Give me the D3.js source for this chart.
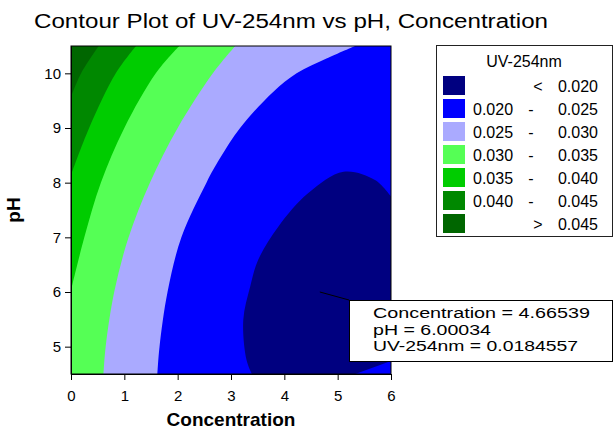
<!DOCTYPE html>
<html lang="en">
<head>
  <meta charset="UTF-8">
  <title>Contour Plot of UV-254nm vs pH, Concentration</title>
  <style>
    body { margin: 0; background: #fff; }
    svg { display: block; }
    text { font-family: 'Liberation Sans', Arial, sans-serif; fill: #000; }
    .axis path, .axis line { stroke: #000; }
    .axis text { font-size: 15px; }
  </style>
</head>
<body>
  <svg width="615" height="429"></svg>
  <script src="https://cdn.jsdelivr.net/npm/d3@7"></script>
  <script>
    // ticks
    var xTicks = [0, 1, 2, 3, 4, 5, 6]
    var yTicks = [5, 6, 7, 8, 9, 10]

    // contour boundaries, [Concentration, pH]
    var line020 = [[3.39, 4.5], [3.29, 4.76], [3.23, 5.49], [3.36, 6.1], [3.51, 6.59], [3.89, 7.2], [4.45, 7.81], [5.11, 8.2], [5.7, 8.05], [6.0, 7.75]]
    var line020low = [[6.0, 4.74], [5.33, 4.5]]
    var line025 = [[5.33, 10.5], [4.79, 10.27], [4.23, 10.0], [3.79, 9.66], [3.17, 9.0], [2.79, 8.44], [2.54, 8.0], [2.07, 7.0], [1.81, 6.0], [1.66, 5.0], [1.62, 4.5]]
    var line030 = [[3.08, 10.5], [2.66, 10.0], [2.0, 9.0], [1.48, 8.0], [1.08, 7.0], [0.81, 6.0], [0.65, 5.0], [0.61, 4.5]]
    var line035 = [[2.03, 10.5], [1.59, 10.0], [1.0, 9.0], [0.56, 8.0], [0.25, 7.0], [0.0, 6.03]]
    var line040 = [[1.22, 10.5], [0.84, 10.0], [0.34, 9.0], [0.0, 8.14]]
    var line045 = [[0.52, 10.5], [0.19, 10.0], [0.0, 9.57]]

    // legend
    var legendLow = ['', '0.020', '0.025', '0.030', '0.035', '0.040', '']
    var legendHigh = ['0.020', '0.025', '0.030', '0.035', '0.040', '0.045', '0.045']
    var legendSign = ['<', '-', '-', '-', '-', '-', '>']
    var bandColors = ['#000080', '#0000ff', '#aaaaff', '#55ff55', '#00cc00', '#008800', '#006600']

    // crosshair point: Concentration, pH, UV-254nm
    var probe = [4.66539, 6.00034, 0.0184557]

    var svg = d3.select('svg')
    var plotL = 71, plotR = 391, plotT = 46, plotB = 374

    var x = d3.scaleLinear().domain([0, 6]).range([plotL, plotR])
    var y = d3.scaleLinear().domain([4.5, 10.5]).range([plotB, plotT])

    svg.append('text')
      .attr('x', 34)
      .attr('y', 28)
      .attr('font-size', '20px')
      .attr('textLength', 514)
      .attr('lengthAdjust', 'spacingAndGlyphs')
      .text('Contour Plot of UV-254nm vs pH, Concentration')

    svg.append('clipPath').attr('id', 'plot-clip')
      .append('rect')
      .attr('x', plotL).attr('y', plotT)
      .attr('width', plotR - plotL).attr('height', plotB - plotT)

    var line = d3.line()
      .x(function(d) { return x(d[0]) })
      .y(function(d) { return y(d[1]) })
      .curve(d3.curveCatmullRom.alpha(0.5))

    function pt(c, p) {
      return 'L' + x(c) + ',' + y(p)
    }

    var g = svg.append('g').attr('clip-path', 'url(#plot-clip)')

    // base band 0.020 - 0.025
    g.append('rect')
      .attr('x', plotL).attr('y', plotT)
      .attr('width', plotR - plotL).attr('height', plotB - plotT)
      .attr('fill', bandColors[1])

    // bands painted from the bottom-right towards the top-left corner
    g.append('path')
      .attr('fill', bandColors[2])
      .attr('d', line(line025) + pt(0, 4.5) + pt(0, 10.5) + 'Z')
    g.append('path')
      .attr('fill', bandColors[3])
      .attr('d', line(line030) + pt(0, 4.5) + pt(0, 10.5) + 'Z')
    g.append('path')
      .attr('fill', bandColors[4])
      .attr('d', line(line035) + pt(0, 10.5) + 'Z')
    g.append('path')
      .attr('fill', bandColors[5])
      .attr('d', line(line040) + pt(0, 10.5) + 'Z')
    g.append('path')
      .attr('fill', bandColors[6])
      .attr('d', line(line045) + pt(0, 10.5) + 'Z')

    // the < 0.020 pocket
    g.append('path')
      .attr('fill', bandColors[0])
      .attr('d', line(line020) + line020low.map(function(d) { return pt(d[0], d[1]) }).join('') + 'Z')

    // frame
    svg.append('rect')
      .attr('x', plotL).attr('y', plotT)
      .attr('width', plotR - plotL).attr('height', plotB - plotT)
      .attr('fill', 'none')
      .attr('stroke', '#000')

    // axes
    svg.append('g')
      .attr('class', 'axis')
      .attr('transform', 'translate(0,' + plotB + ')')
      .call(d3.axisBottom(x).tickValues(xTicks).tickFormat(d3.format('d'))
        .tickSize(6).tickSizeOuter(0).tickPadding(10))

    svg.append('g')
      .attr('class', 'axis')
      .attr('transform', 'translate(' + plotL + ',0)')
      .call(d3.axisLeft(y).tickValues(yTicks).tickFormat(d3.format('d'))
        .tickSize(6).tickSizeOuter(0).tickPadding(4))

    svg.append('text')
      .attr('x', (plotL + plotR) / 2)
      .attr('y', 426)
      .attr('text-anchor', 'middle')
      .attr('font-size', '19px')
      .attr('font-weight', 'bold')
      .text('Concentration')

    svg.append('text')
      .attr('transform', 'translate(20,' + (plotT + plotB) / 2 + ') rotate(-90)')
      .attr('text-anchor', 'middle')
      .attr('font-size', '19px')
      .attr('font-weight', 'bold')
      .text('pH')

    // legend
    var lg = svg.append('g')
    lg.append('rect')
      .attr('x', 436.5).attr('y', 45.5)
      .attr('width', 176).attr('height', 191)
      .attr('fill', '#fff')
      .attr('stroke', '#222')
    lg.append('text')
      .attr('x', 524)
      .attr('y', 67)
      .attr('text-anchor', 'middle')
      .attr('font-size', '16px')
      .text('UV-254nm')

    var rows = lg.selectAll('.row')
      .data(bandColors)
      .enter()
      .append('g')
      .attr('class', 'row')
      .attr('transform', function(d, i) {
        return 'translate(0,' + (76 + i * 23) + ')'
      })
    rows.append('rect')
      .attr('x', 443).attr('width', 22).attr('height', 19)
      .attr('fill', function(d) { return d })
    rows.append('text')
      .attr('x', 473).attr('y', 16)
      .attr('font-size', '16px')
      .text(function(d, i) { return legendLow[i] })
    rows.append('text')
      .attr('x', function(d, i) { return legendSign[i] === '-' ? 531 : 538 })
      .attr('y', 16)
      .attr('text-anchor', 'middle')
      .attr('font-size', '16px')
      .text(function(d, i) { return legendSign[i] })
    rows.append('text')
      .attr('x', 598).attr('y', 16)
      .attr('text-anchor', 'end')
      .attr('font-size', '16px')
      .text(function(d, i) { return legendHigh[i] })

    // crosshair annotation
    svg.append('line')
      .attr('x1', x(probe[0])).attr('y1', y(probe[1]))
      .attr('x2', 349).attr('y2', 300)
      .attr('stroke', '#000')
    svg.append('rect')
      .attr('x', 349.5).attr('y', 300.5)
      .attr('width', 263).attr('height', 61)
      .attr('fill', '#fff')
      .attr('stroke', '#000')
    var notes = [
      'Concentration = ' + probe[0],
      'pH = ' + probe[1],
      'UV-254nm = ' + probe[2]
    ]
    var noteWidths = [217, 118, 205]
    svg.selectAll('.note')
      .data(notes)
      .enter()
      .append('text')
      .attr('class', 'note')
      .attr('x', 373)
      .attr('y', function(d, i) { return 318 + i * 16.5 })
      .attr('font-size', '15.5px')
      .attr('textLength', function(d, i) { return noteWidths[i] })
      .attr('lengthAdjust', 'spacingAndGlyphs')
      .text(function(d) { return d })
  </script>
</body>
</html>
